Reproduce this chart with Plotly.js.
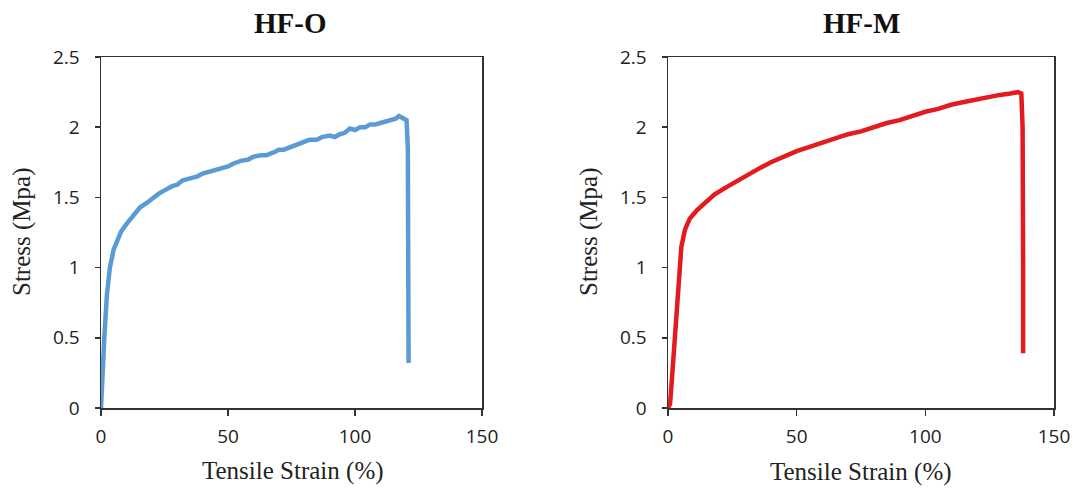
<!DOCTYPE html>
<html>
<head>
<meta charset="utf-8">
<script src="https://cdn.plot.ly/plotly-3.0.1.min.js"></script>
<style>html,body{margin:0;padding:0;background:#fff;}#chart{width:1077px;height:492px;}</style>
</head>
<body>
<div id="chart"></div>
<script>
// HF-O
const strainO = [0,0.5,1.3,2.3,3.5,5,6.7,8,10,12.5,15.4,18,20,23,25,28,30,32,34,36,38,40,42,44,47,50,52,55,58,60,63,65,68,70,72,75,78,80,82,85,87,90,92,94,96,98,100,102,104,106,108,110,112,114,116,117.3,118.5,119.6,120.3,120.8,121,121.1,121.1];
const stressO = [0,0.25,0.5,0.8,1.0,1.13,1.2,1.26,1.31,1.37,1.43,1.46,1.49,1.53,1.55,1.58,1.59,1.62,1.63,1.64,1.65,1.67,1.68,1.69,1.71,1.72,1.74,1.76,1.77,1.79,1.80,1.80,1.82,1.84,1.84,1.86,1.88,1.89,1.91,1.91,1.93,1.94,1.93,1.95,1.96,1.99,1.98,2.00,2.00,2.02,2.02,2.03,2.04,2.05,2.06,2.08,2.07,2.06,2.05,1.85,1.2,0.6,0.32];
// HF-M
const strainM = [0,0.8,1.5,2.7,3.5,4.3,5.2,6.6,8.5,11.3,15,18,22.9,27,31,35.8,40,43.5,47,50,55,60,65,70,75,80,85,90,95,100,105,110,115,120,125,129,133,136,137.3,137.8,138,138];
const stressM = [0,0.03,0.2,0.5,0.75,1.0,1.15,1.27,1.35,1.41,1.47,1.52,1.575,1.62,1.66,1.71,1.75,1.78,1.81,1.83,1.86,1.89,1.92,1.95,1.97,2.00,2.03,2.05,2.08,2.11,2.13,2.16,2.18,2.20,2.22,2.23,2.24,2.25,2.24,2.0,1.0,0.39];

const xTicks = [0,50,100,150];
const yTicks = [0,0.5,1,1.5,2,2.5];
const titles = ["HF-O","HF-M"];
const xTitle = "Tensile Strain (%)";
const yTitle = "Stress (Mpa)";

const W = 1077, H = 492;
const px = v => v / W;
const py = v => 1 - v / H;

const traces = [
  {x: strainO, y: stressO, type: 'scatter', mode: 'lines', line: {color: '#5B9BD5', width: 4.5}, xaxis: 'x', yaxis: 'y', hoverinfo: 'skip'},
  {x: strainM, y: stressM, type: 'scatter', mode: 'lines', line: {color: '#E31B1F', width: 4.5}, xaxis: 'x2', yaxis: 'y2', hoverinfo: 'skip'}
];

const tickFont = {family: 'Open Sans, sans-serif', size: 19, color: '#222'};
function xa(dom, anchor) {
  return {domain: dom, anchor: anchor, range: [0,150], tickvals: xTicks, ticktext: xTicks.map(String),
    showgrid: false, zeroline: false, showline: true, linecolor: '#333', linewidth: 1.5, mirror: true,
    ticks: 'outside', ticklen: 6, tickwidth: 1.5, tickcolor: '#333', tickfont: tickFont, ticklabelstandoff: 5, fixedrange: true};
}
function ya(dom, anchor) {
  return {domain: dom, anchor: anchor, range: [0,2.5], tickvals: yTicks, ticktext: yTicks.map(String),
    showgrid: false, zeroline: false, showline: true, linecolor: '#333', linewidth: 1.5, mirror: true,
    ticks: 'outside', ticklen: 5, tickwidth: 1.5, tickcolor: '#333', tickfont: tickFont, ticklabelstandoff: 11, fixedrange: true};
}
const yDom = [1 - 408 / H, 1 - 57 / H];
const titleFont = {family: 'Liberation Serif, Times New Roman, serif', size: 29, color: '#111'};
const axFont = {family: 'Liberation Serif, Times New Roman, serif', size: 25, color: '#222'};

const layout = {
  width: W, height: H,
  margin: {l: 0, r: 0, t: 0, b: 0},
  paper_bgcolor: '#fff', plot_bgcolor: '#fff',
  showlegend: false,
  xaxis: xa([px(101), px(482)], 'y'),
  yaxis: ya(yDom, 'x'),
  xaxis2: xa([px(668), px(1054)], 'y2'),
  yaxis2: ya(yDom, 'x2'),
  annotations: [
    {text: '<b>' + titles[0] + '</b>', xref: 'paper', yref: 'paper', x: px(291), y: py(23), xanchor: 'center', yanchor: 'middle', showarrow: false, font: titleFont},
    {text: '<b>' + titles[1] + '</b>', xref: 'paper', yref: 'paper', x: px(861), y: py(23), xanchor: 'center', yanchor: 'middle', showarrow: false, font: titleFont},
    {text: xTitle, xref: 'paper', yref: 'paper', x: px(293), y: py(471), xanchor: 'center', yanchor: 'middle', showarrow: false, font: axFont},
    {text: xTitle, xref: 'paper', yref: 'paper', x: px(861), y: py(472), xanchor: 'center', yanchor: 'middle', showarrow: false, font: axFont},
    {text: yTitle, xref: 'paper', yref: 'paper', x: px(22), y: py(232), xanchor: 'center', yanchor: 'middle', textangle: -90, showarrow: false, font: axFont},
    {text: yTitle, xref: 'paper', yref: 'paper', x: px(589), y: py(232), xanchor: 'center', yanchor: 'middle', textangle: -90, showarrow: false, font: axFont}
  ]
};

Plotly.newPlot('chart', traces, layout, {displayModeBar: false, staticPlot: true});
</script>
</body>
</html>
